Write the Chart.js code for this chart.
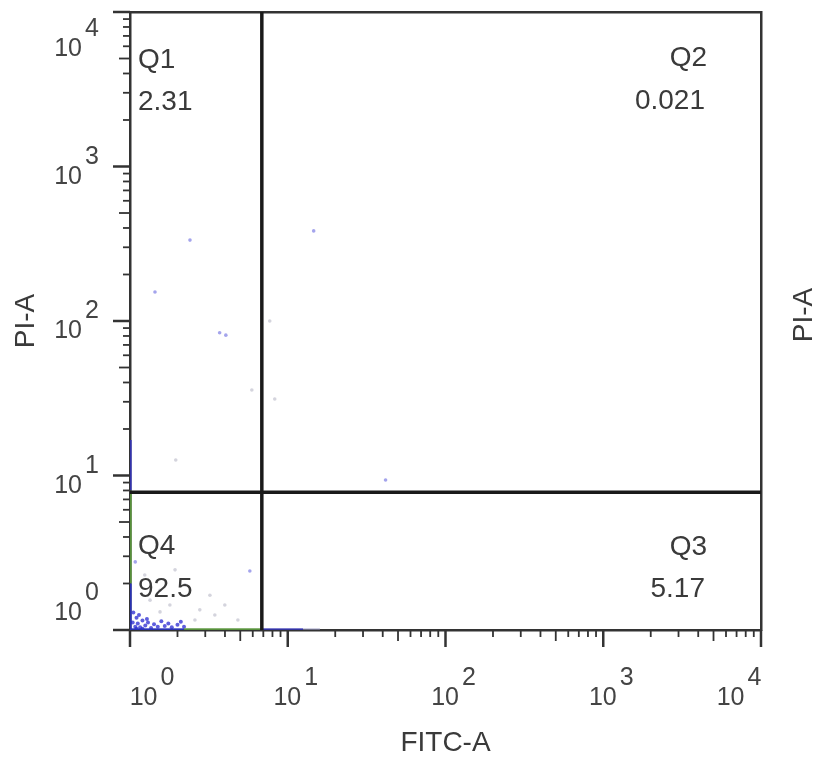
<!DOCTYPE html>
<html>
<head>
<meta charset="utf-8">
<script src="https://cdn.jsdelivr.net/npm/chart.js@4.4.1/dist/chart.umd.min.js"></script>
<style>
  body { margin: 0; background: #fff; }
</style>
</head>
<body>
<canvas id="plot" width="826" height="760"></canvas>
<script>
// axis text
const xTitle = "FITC-A";
const yTitle = "PI-A";
const decadeExp = ["0", "1", "2", "3", "4"];

// quadrant gate positions and stats
const gateX = 6.85;
const gateY = 7.8;
const quadNames = ["Q1", "Q2", "Q3", "Q4"];
const quadPct = ["2.31", "0.021", "5.17", "92.5"];

// single events
const blueEvents = [
  {x: 2.40, y: 334}, {x: 1.44, y: 154}, {x: 3.70, y: 84}, {x: 4.05, y: 81},
  {x: 14.6, y: 383}, {x: 41.7, y: 9.35}, {x: 5.75, y: 2.41}, {x: 1.08, y: 2.76}
];
const grayEvents = [
  {x: 5.92, y: 35.8}, {x: 7.69, y: 100}, {x: 8.27, y: 31.3}, {x: 1.95, y: 12.6},
  {x: 4.83, y: 1.16}, {x: 1.34, y: 1.56}, {x: 1.55, y: 1.81}, {x: 1.79, y: 1.45},
  {x: 2.23, y: 1.96}, {x: 2.77, y: 1.35}, {x: 3.21, y: 1.68}, {x: 1.24, y: 2.27},
  {x: 1.93, y: 2.45}, {x: 2.58, y: 1.16}, {x: 3.45, y: 1.25}, {x: 3.99, y: 1.45},
  {x: 1.55, y: 1.31}
];
const clusterEvents = [
  {x: 1.08, y: 1.05}, {x: 1.12, y: 1.10}, {x: 1.16, y: 1.04}, {x: 1.20, y: 1.15},
  {x: 1.25, y: 1.07}, {x: 1.30, y: 1.12}, {x: 1.36, y: 1.03}, {x: 1.42, y: 1.09},
  {x: 1.50, y: 1.05}, {x: 1.58, y: 1.14}, {x: 1.66, y: 1.06}, {x: 1.75, y: 1.10},
  {x: 1.84, y: 1.04}, {x: 2.00, y: 1.08}, {x: 2.10, y: 1.13}, {x: 2.20, y: 1.05},
  {x: 1.10, y: 1.20}, {x: 1.14, y: 1.25}, {x: 1.05, y: 1.30}, {x: 1.20, y: 1.02},
  {x: 1.28, y: 1.18}, {x: 1.04, y: 1.12}, {x: 1.10, y: 1.02}
];

// events piled on the axes (drawn as runs)
const leftBlueLow = [{x: 1, y: 1}, {x: 1, y: 2}];
const leftGreen = [{x: 1, y: 2}, {x: 1, y: 8}];
const leftBlueHigh = [{x: 1, y: 8}, {x: 1, y: 17}];
const bottomBlueLow = [{x: 1, y: 1}, {x: 2.2, y: 1}];
const bottomGreen = [{x: 2.2, y: 1}, {x: 6.8, y: 1}];
const bottomBlueHigh = [{x: 6.8, y: 1}, {x: 12.5, y: 1}];
const bottomGray = [{x: 12.5, y: 1}, {x: 16, y: 1}];

const fontFam = "'Liberation Sans', Arial, sans-serif";
const textCol = "#3a3a3a";
const frameCol = "#333";

function tickValues() {
  let vals = [];
  for (let e = 0; e < 4; e++) {
    for (let m = 1; m < 10; m++) vals.push(m * Math.pow(10, e));
  }
  vals.push(10000);
  return vals;
}

function seg(data, color, width) {
  return {data: data, showLine: true, borderColor: color, borderWidth: width, pointRadius: 0, fill: false};
}
function dots(data, color, r) {
  return {data: data, showLine: false, backgroundColor: color, borderWidth: 0, pointRadius: r};
}

const cytoPlugin = {
  id: "cyto",
  afterDraw(chart) {
    const ctx = chart.ctx;
    const a = chart.chartArea;
    const xs = chart.scales.x, ys = chart.scales.y;
    ctx.save();
    ctx.strokeStyle = frameCol;
    ctx.lineCap = "butt";
    tickValues().forEach(v => {
      const m = Math.round(v / Math.pow(10, Math.floor(Math.log10(v) + 1e-9)));
      const len = m === 1 ? 17 : (m === 5 ? 11 : 7);
      ctx.lineWidth = m === 1 ? 2.5 : 1.8;
      const px = xs.getPixelForValue(v);
      ctx.beginPath(); ctx.moveTo(px, a.bottom); ctx.lineTo(px, a.bottom + len); ctx.stroke();
      const py = ys.getPixelForValue(v);
      ctx.beginPath(); ctx.moveTo(a.left - len, py); ctx.lineTo(a.left, py); ctx.stroke();
    });

    // decade labels 10^n
    ctx.fillStyle = "#444";
    ctx.font = "25px " + fontFam;
    ctx.textBaseline = "alphabetic";
    const last = decadeExp.length - 1;
    decadeExp.forEach((ex, i) => {
      const v = Math.pow(10, i);
      const baseW = ctx.measureText("10").width;
      const expW = ctx.measureText(ex).width;
      const gw = baseW + 3 + expW;
      // x axis
      let cx = xs.getPixelForValue(v) + (i === 0 ? 22 : (i === last ? -22 : 8));
      let x0 = cx - gw / 2;
      ctx.textAlign = "left";
      ctx.fillText("10", x0, 705);
      ctx.fillText(ex, x0 + baseW + 3, 685);
      // y axis
      const py = ys.getPixelForValue(v);
      const by = py + (i === 0 ? -10 : (i === last ? 44 : 17));
      ctx.textAlign = "right";
      ctx.fillText("10", 82, by);
      ctx.textAlign = "left";
      ctx.fillText(ex, 85, by - 20);
    });

    // quadrant names and percentages
    ctx.fillStyle = textCol;
    ctx.font = "28px " + fontFam;
    ctx.textAlign = "left";
    ctx.fillText(quadNames[0], a.left + 8, a.top + 56);
    ctx.fillText(quadPct[0], a.left + 8, a.top + 98);
    ctx.fillText(quadNames[3], a.left + 8, a.bottom - 76);
    ctx.fillText(quadPct[3], a.left + 8, a.bottom - 33);
    ctx.textAlign = "right";
    ctx.fillText(quadNames[1], a.right - 54, a.top + 54);
    ctx.fillText(quadPct[1], a.right - 56, a.top + 97);
    ctx.fillText(quadNames[2], a.right - 54, a.bottom - 75);
    ctx.fillText(quadPct[2], a.right - 56, a.bottom - 33);

    // right side axis name
    ctx.translate(804, (a.top + a.bottom) / 2 - 6);
    ctx.rotate(-Math.PI / 2);
    ctx.textAlign = "center";
    ctx.textBaseline = "middle";
    ctx.fillText(yTitle, 0, 0);
    ctx.restore();
  }
};

const border = {display: true, color: frameCol, width: 2.5};

new Chart(document.getElementById("plot"), {
  type: "scatter",
  data: {
    datasets: [
      seg([{x: gateX, y: 1}, {x: gateX, y: 10000}], "#1a1a1a", 3.5),
      seg([{x: 1, y: gateY}, {x: 10000, y: gateY}], "#1a1a1a", 3.5),
      seg(leftBlueLow, "rgba(40,50,190,0.9)", 3.5),
      seg(leftGreen, "rgba(90,150,60,0.95)", 3.5),
      seg(leftBlueHigh, "rgba(50,50,200,0.8)", 3.5),
      seg(bottomBlueLow, "rgba(40,50,190,0.9)", 3.5),
      seg(bottomGreen, "rgba(90,150,60,0.95)", 3.5),
      seg(bottomBlueHigh, "rgba(50,50,180,0.85)", 3.5),
      seg(bottomGray, "rgba(150,150,190,0.6)", 3.5),
      dots(clusterEvents, "rgba(40,40,210,0.75)", 2),
      dots(blueEvents, "rgba(90,90,220,0.55)", 1.8),
      dots(grayEvents, "rgba(160,160,180,0.45)", 1.8)
    ]
  },
  options: {
    responsive: false,
    animation: false,
    layout: {padding: 0},
    plugins: {legend: {display: false}, tooltip: {enabled: false}},
    scales: {
      x: {
        type: "logarithmic", position: "bottom", min: 1, max: 10000,
        afterBuildTicks: s => { s.ticks = tickValues().map(v => ({value: v})); },
        afterFit: s => { s.height = 130; },
        ticks: {display: false},
        grid: {display: false},
        border: border,
        title: {display: true, text: xTitle, color: textCol, font: {family: fontFam, size: 28}, padding: {top: 0, bottom: 0}}
      },
      y: {
        type: "logarithmic", position: "left", min: 1, max: 10000,
        afterBuildTicks: s => { s.ticks = tickValues().map(v => ({value: v})); },
        afterFit: s => { s.width = 130; },
        ticks: {display: false},
        grid: {display: false},
        border: border,
        title: {display: true, text: yTitle, color: textCol, font: {family: fontFam, size: 28}, padding: {top: 9, bottom: 0}}
      },
      x2: {
        type: "logarithmic", position: "top", min: 1, max: 10000,
        afterFit: s => { s.height = 12; },
        ticks: {display: false},
        grid: {display: false},
        border: border
      },
      y2: {
        type: "logarithmic", position: "right", min: 1, max: 10000,
        afterFit: s => { s.width = 65; },
        ticks: {display: false},
        grid: {display: false},
        border: border
      }
    }
  },
  plugins: [cytoPlugin]
});
</script>
</body>
</html>
